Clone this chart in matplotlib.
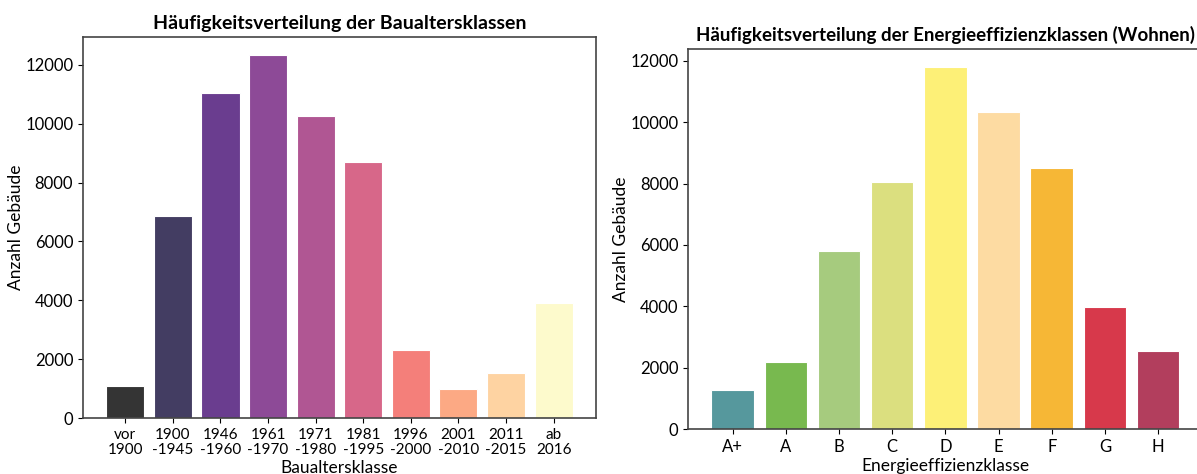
import matplotlib.pyplot as plt

plt.rcParams["font.family"] = ["Lato", "DejaVu Sans"]

# Baualtersklassen
bak_labels = ["vor\n1900", "1900\n-1945", "1946\n-1960", "1961\n-1970", "1971\n-1980",
              "1981\n-1995", "1996\n-2000", "2001\n-2010", "2011\n-2015", "ab\n2016"]
bak_values = [1100, 6850, 11050, 12330, 10270, 8700, 2320, 990, 1540, 3910]
bak_colors = ["#343434", "#433d62", "#6a3d8f", "#8d4a97", "#b05693",
              "#d76789", "#f47f7a", "#fca984", "#fed3a2", "#fdfacc"]

# Energieeffizienzklassen
eek_labels = ["A+", "A", "B", "C", "D", "E", "F", "G", "H"]
eek_values = [1270, 2200, 5800, 8050, 11800, 10320, 8520, 3980, 2560]
eek_colors = ["#56989d", "#78b94f", "#a6cb7e", "#dbdf7f", "#fdf077",
              "#fddba2", "#f6b736", "#d7394b", "#b23e5d"]

fig = plt.figure(figsize=(11.97, 4.74), dpi=100)
ax1 = fig.add_axes([0.0693, 0.1181, 0.4286, 0.8038])
ax2 = fig.add_axes([0.5748, 0.0949, 0.4300, 0.8017])

for ax, labels, values, colors, title, xlabel, tsize in [
    (ax1, bak_labels, bak_values, bak_colors,
     "Häufigkeitsverteilung der Baualtersklassen", "Baualtersklasse", 14),
    (ax2, eek_labels, eek_values, eek_colors,
     "Häufigkeitsverteilung der Energieeffizienzklassen (Wohnen)", "Energieeffizienzklasse", 13.5),
]:
    x = range(len(values))
    ax.bar(x, values, width=0.8, color=colors, edgecolor="white", linewidth=0.8)
    ax.set_xticks(list(x))
    ax.set_xticklabels(labels, fontsize=11 if ax is ax1 else 12, linespacing=1.1)
    ax.tick_params(axis="y", labelsize=12)
    ax.set_title(title, fontsize=tsize, fontweight="bold", pad=6)
    ax.set_xlabel(xlabel, fontsize=12.5, labelpad=2)
    ax.set_ylabel("Anzahl Gebäude", fontsize=12.5, labelpad=1)
    for s in ax.spines.values():
        s.set_color("#444444")
        s.set_linewidth(1.2)

# right chart is cut off at the image edge in the reference
ax2.spines["right"].set_visible(False)

fig.savefig("out.png", dpi=100)
